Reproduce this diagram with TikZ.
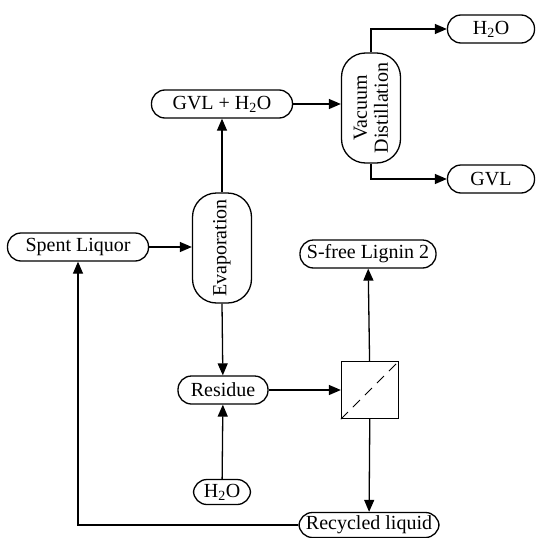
\documentclass[tikz,border=0pt]{standalone}
\usepackage{fontspec}
\setmainfont{Liberation Serif}
\usetikzlibrary{positioning,arrows.meta}

\tikzset{
  stream/.style={draw,rectangle,rounded corners=13.5pt,minimum height=28pt,inner sep=1pt,line width=1.3pt},
  column/.style={draw,rectangle,rounded corners=24pt,rotate=90,minimum width=110pt,minimum height=59pt,inner sep=1pt,line width=1.3pt,align=center},
  flow/.style={line width=1.3pt,-{Triangle[length=12pt,width=10pt]}}
}

\begin{document}
\begin{tikzpicture}[x=1pt,y=-1pt,font=\fontsize{20pt}{21pt}\selectfont]
\useasboundingbox (0,0) rectangle (536,538);

\node[column] (evap) at (222,248) {Evaporation};
\node[column] (vac) at (371,108) {Vacuum\\Distillation};

\node[stream,minimum width=141pt] (spent) at (78,247) {Spent Liquor};
\node[stream,minimum width=141pt] (gvlw) at (222,104) {GVL + H\textsubscript{2}O};
\node[stream,minimum width=87pt] (water) at (491,29) {H\textsubscript{2}O};
\node[stream,minimum width=87pt] (gvl) at (491,179) {GVL};
\node[stream,minimum width=136pt] (lignin) at (368,254) {S-free Lignin 2};
\node[stream,minimum width=90pt] (residue) at (223,390) {Residue};
\node[stream,minimum width=57pt,minimum height=25pt] (wash) at (222,492) {H\textsubscript{2}O};
\node[stream,minimum width=140pt,minimum height=25pt] (recyc) at (369,525) {Recycled liquid};

\node[draw,rectangle,minimum size=57pt,line width=1.3pt] (filter) at (370,390) {};
\draw[dash pattern=on 10pt off 7pt,line width=1pt] (filter.south west) -- (filter.north east);

\draw[flow] (spent) -- (evap.north |- spent);
\draw[flow] (evap.east) -- (gvlw);
\draw[flow] (gvlw) -- (vac.north |- gvlw);
\draw[flow] (vac.east) |- (water);
\draw[flow] (vac.west) |- (gvl);
\draw[flow] (evap.west) -- (residue);
\draw[flow] (wash) -- (residue);
\draw[flow] (residue) -- (filter);
\draw[flow] (filter) -- (lignin);
\draw[flow] (filter) -- (recyc);
\draw[flow] (recyc) -| (spent);
\end{tikzpicture}
\end{document}
